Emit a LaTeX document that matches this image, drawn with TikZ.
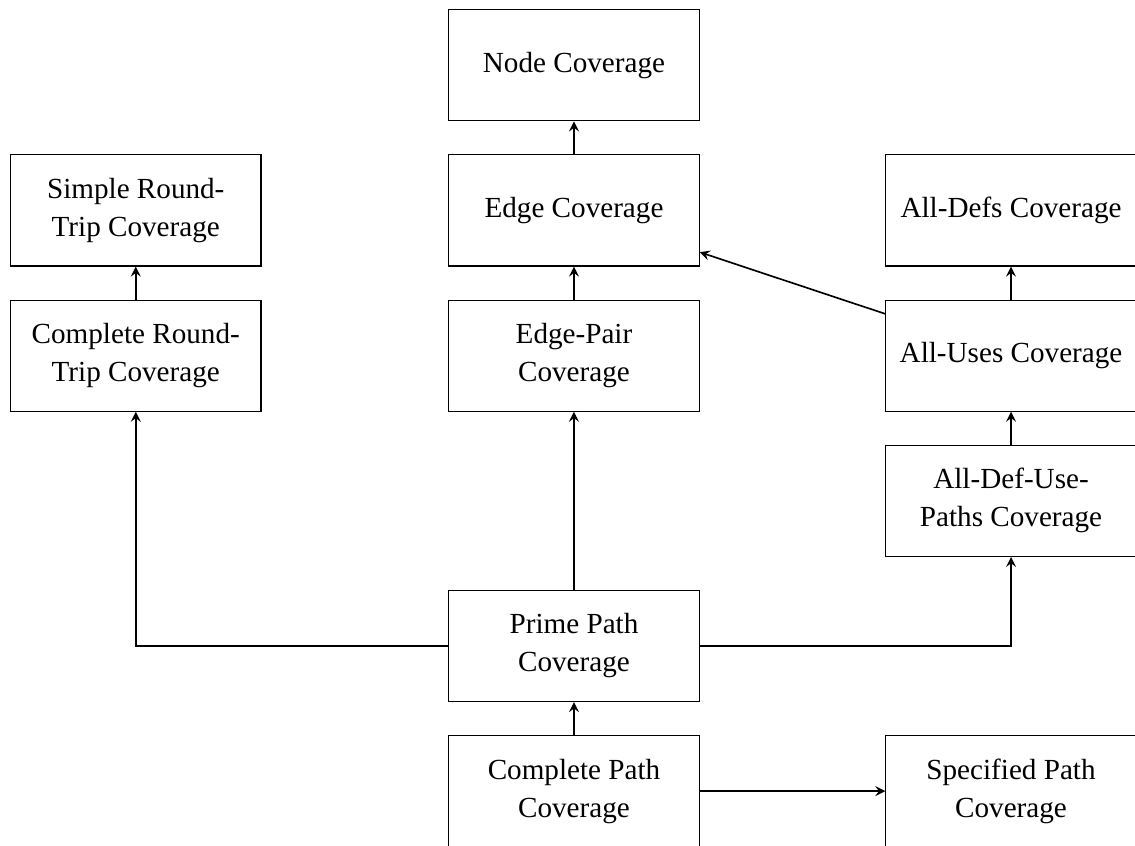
\documentclass[tikz,border=0pt]{standalone}
\usepackage{fontspec}
\setmainfont{Liberation Serif}
\usepackage{tikz}
\usetikzlibrary{arrows.meta, positioning}

\begin{document}
\begin{tikzpicture}[
    criterio/.style={
        draw,
        align=center,
        font=\fontsize{10.6}{13.8}\selectfont,
        minimum width=3.2cm,
        minimum height=1.42cm
    },
    seta/.style={
        ->,
        >=stealth,
        semithick
    }
]

\useasboundingbox (-7.335,-2.556) rectangle (7.169,8.255);

\node[criterio] (node) at (0,7.42)
{Node Coverage};

\node[criterio] (edge) at (0,5.565)
{Edge Coverage};

\node[criterio] (edgepair) at (0,3.71)
{Edge-Pair\\Coverage};

\node[criterio] (prime) at (0,0)
{Prime Path\\Coverage};

\node[criterio] (complete) at (0,-1.855)
{Complete Path\\Coverage};

\node[criterio] (srt) at (-5.6,5.565)
{Simple Round-\\Trip Coverage};

\node[criterio] (crt) at (-5.6,3.71)
{Complete Round-\\Trip Coverage};

\node[criterio] (alldefs) at (5.585,5.565)
{All-Defs Coverage};

\node[criterio] (alluses) at (5.585,3.71)
{All-Uses Coverage};

\node[criterio] (adup) at (5.585,1.855)
{All-Def-Use-\\Paths Coverage};

\node[criterio] (specified) at (5.585,-1.855)
{Specified Path\\Coverage};

\draw[seta] (edge) -- (node);
\draw[seta] (edgepair) -- (edge);
\draw[seta] (prime) -- (edgepair);
\draw[seta] (complete) -- (prime);
\draw[seta] (complete) -- (specified);
\draw[seta] (crt) -- (srt);
\draw[seta] (prime.west) -| (crt.south);
\draw[seta] (prime.east) -| (adup.south);
\draw[seta] (adup) -- (alluses);
\draw[seta] (alluses) -- (alldefs);
\draw[seta] (alluses) -- (edge);

\end{tikzpicture}
\end{document}
